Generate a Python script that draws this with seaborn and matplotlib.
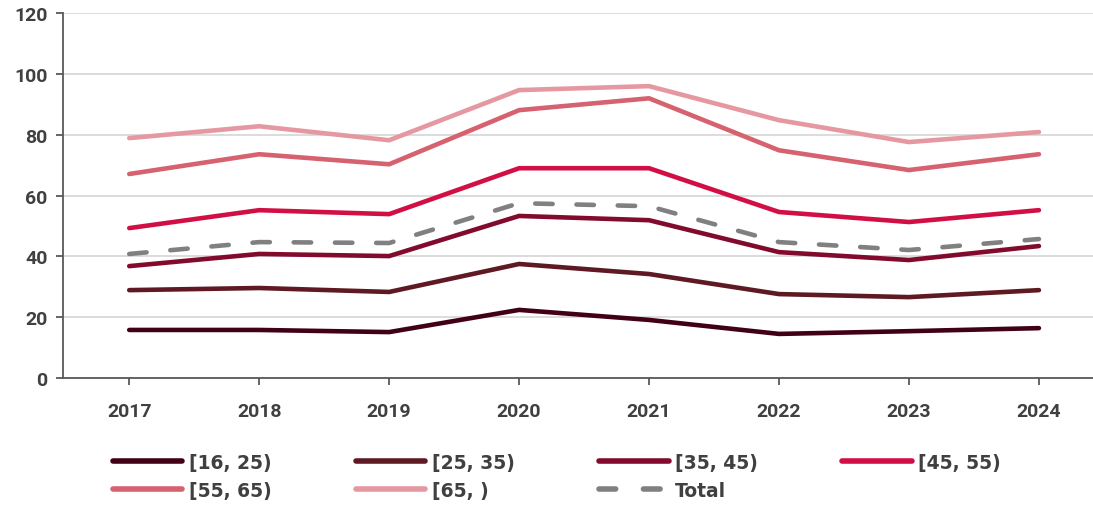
import matplotlib
matplotlib.use("Agg")
import matplotlib.pyplot as plt
import seaborn as sns
import pandas as pd
from matplotlib.lines import Line2D

years = ["2017", "2018", "2019", "2020", "2021", "2022", "2023", "2024"]
s_16_25 = [15.8, 15.8, 15.1, 22.4, 19.1, 14.5, 15.4, 16.4]
s_25_35 = [28.9, 29.6, 28.3, 37.5, 34.2, 27.6, 26.6, 28.9]
s_35_45 = [36.8, 40.8, 40.1, 53.3, 51.9, 41.4, 38.8, 43.4]
s_45_55 = [49.3, 55.2, 53.9, 69.0, 69.0, 54.6, 51.3, 55.2]
s_55_65 = [67.1, 73.6, 70.3, 88.1, 92.0, 74.9, 68.4, 73.6]
s_65 = [78.9, 82.8, 78.2, 94.7, 96.0, 84.8, 77.6, 80.9]
total = [40.8, 44.7, 44.4, 57.5, 56.5, 44.7, 42.1, 45.7]

series_names = ["[16, 25)", "[25, 35)", "[35, 45)", "[45, 55)", "[55, 65)", "[65, )", "Total"]
series_vals = [s_16_25, s_25_35, s_35_45, s_45_55, s_55_65, s_65, total]
colors = ["#420018", "#5E1922", "#820B2D", "#D10F45", "#D6616F", "#E598A1", "#808080"]

rows = []
for name, vals in zip(series_names, series_vals):
    for i, (y, v) in enumerate(zip(years, vals)):
        rows.append({"x": i, "year": y, "value": v, "series": name})
df = pd.DataFrame(rows)

sns.set_theme(style="white")
plt.rcParams["font.family"] = ["DejaVu Sans"]
text_color = "#404040"

fig = plt.figure(figsize=(10.93, 5.06), dpi=100)
ax = fig.add_axes([0.0576, 0.251, 0.95, 0.721])

palette = dict(zip(series_names, colors))
dashes = {n: "" for n in series_names}
dashes["Total"] = (3.8, 5.2)
sns.lineplot(data=df, x="x", y="value", hue="series", style="series",
             palette=palette, dashes=dashes, linewidth=3.3, ax=ax,
             legend=False)
for ln in ax.get_lines():
    ln.set_solid_capstyle("round")
    ln.set_dash_capstyle("round")
    ln.set_solid_joinstyle("miter")

ax.set_xlim(-0.51, 7.48)
ax.set_ylim(0, 120)
ax.set_yticks(range(0, 121, 20))
ax.set_xticks(range(len(years)))
ax.set_xticklabels(years)
ax.set_xlabel("")
ax.set_ylabel("")
ax.yaxis.grid(True, color="#D9D9D9", linewidth=1.3)
ax.xaxis.grid(False)
ax.set_axisbelow(True)
for side in ["top", "right"]:
    ax.spines[side].set_visible(False)
for side in ["left", "bottom"]:
    ax.spines[side].set_color("#595959")
    ax.spines[side].set_linewidth(1.3)
ax.tick_params(axis="both", direction="out", length=5, width=1.3, color="#595959",
               labelsize=14, labelcolor=text_color, bottom=True, left=True)
ax.tick_params(axis="x", pad=12)
ax.tick_params(axis="y", pad=6)
for lbl in ax.get_xticklabels() + ax.get_yticklabels():
    lbl.set_fontweight("bold")
    lbl.set_family(["Roboto", "DejaVu Sans"])

handles = []
for n, c in zip(series_names, colors):
    if n == "Total":
        h = Line2D([], [], color=c, linewidth=4, linestyle=(0, (3.0, 5.0)),
                   dash_capstyle="round")
    else:
        h = Line2D([], [], color=c, linewidth=4, solid_capstyle="round")
    handles.append(h)
order = [0, 4, 1, 5, 2, 6, 3]
leg = fig.legend([handles[i] for i in order], [series_names[i] for i in order],
                 ncol=4, loc="upper left", bbox_to_anchor=(0.088, 0.137),
                 frameon=False, handlelength=3.7, handletextpad=0.35,
                 columnspacing=4.5, labelspacing=0.5,
                 prop={"weight": "bold", "size": 13.5})
for t in leg.get_texts():
    t.set_color(text_color)

fig.savefig("out.png", dpi=100)
